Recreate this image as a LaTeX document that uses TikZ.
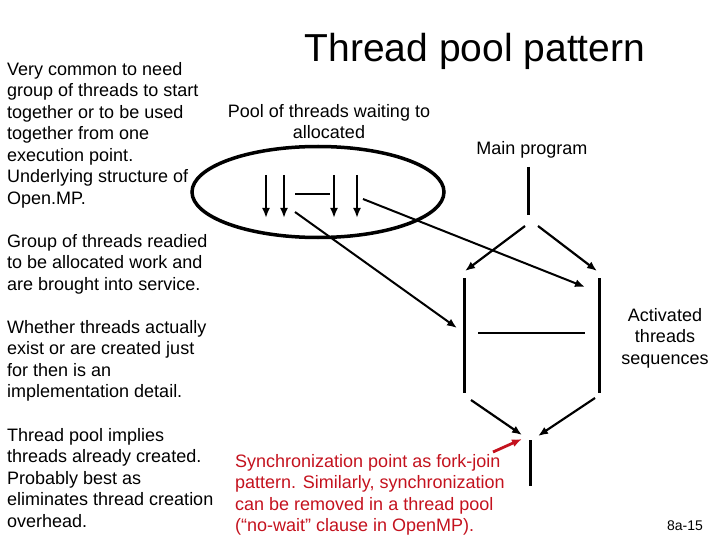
\documentclass[tikz,border=0pt]{standalone}
\usepackage{fontspec}
\setmainfont{Liberation Sans}
\usetikzlibrary{positioning,arrows.meta,shapes.geometric}
\definecolor{poolRojo}{HTML}{C4121E}

\begin{document}
\begin{tikzpicture}[x=1pt, y=-1pt,
      t/.style={inner sep=0pt, align=left, anchor=north west,
                font=\fontsize{18}{21.5}\selectfont},
      tc/.style={t, align=center, anchor=north},
      hilo/.style={line width=3pt},
      flecha/.style={line width=2.2pt, -{Latex[length=10pt,width=8pt]}},
      every node/.style={align=center}]
    \useasboundingbox (0,0) rectangle (720,540);
    \node[anchor=base, inner sep=0pt, font=\fontsize{39}{44}\selectfont] (titulo) at (475,62) {Thread pool pattern};
    % textos de la izquierda
    \node[t] (comun) at (7,62) {Very common to need\\group of threads to start\\together or to be used\\together from one\\execution point.\\Underlying structure of\\Open.MP.};
    \node[t] (grupo) at (7,234) {Group of threads readied\\to be allocated work and\\are brought into service.};
    \node[t] (existen) at (7,320) {Whether threads actually\\exist or are created just\\for then is an\\implementation detail.};
    \node[t] (implica) at (7,428) {Thread pool implies\\threads already created.\\Probably best as\\eliminates thread creation\\overhead.};
    \node[tc] (espera) at (329,104) {Pool of threads waiting to\\allocated};
    \node[tc] (main) at (532,141) {Main program};
    \node[tc] (activos) at (665,308) {Activated\\threads\\sequences};
    \node[t, text=poolRojo] (sincro) at (235,454) {Synchronization point as fork-join\\pattern. Similarly, synchronization\\can be removed in a thread pool\\(“no-wait” clause in OpenMP).};
    \node[anchor=base, inner sep=0pt, font=\fontsize{14}{16}\selectfont] (pag) at (685,530) {8a-15};

    % el pool
    \node[ellipse, draw, line width=3.5pt, minimum width=252pt, minimum height=91pt] (pool) at (318,192) {};
    \coordinate (h1a) at (266,175); \coordinate (h1b) at (266,218);
    \coordinate (h2a) at (284,175); \coordinate (h2b) at (284,218);
    \coordinate (h3a) at (334,175); \coordinate (h3b) at (334,218);
    \coordinate (h4a) at (357,175); \coordinate (h4b) at (357,218);
    \coordinate (ha) at (295,194);  \coordinate (hb) at (330,194);
    \draw[flecha, line width=2pt] (h1a) -- (h1b);
    \draw[flecha, line width=2pt] (h2a) -- (h2b);
    \draw[flecha, line width=2pt] (h3a) -- (h3b);
    \draw[flecha, line width=2pt] (h4a) -- (h4b);
    \draw[line width=2pt] (ha) -- (hb);

    % programa principal
    \coordinate (m1) at (528,167); \coordinate (m2) at (528,215);
    \coordinate (fi) at (464,278); \coordinate (fi2) at (464,393);
    \coordinate (fd) at (599,278); \coordinate (fd2) at (599,393);
    \coordinate (c1) at (478,333); \coordinate (c2) at (585,333);
    \coordinate (u1) at (530,440); \coordinate (u2) at (530,486);
    \draw[hilo] (m1) -- (m2);
    \draw[hilo] (fi) -- (fi2);
    \draw[hilo] (fd) -- (fd2);
    \draw[line width=2pt] (c1) -- (c2);
    \draw[hilo] (u1) -- (u2);

    % fork y join
    \coordinate (k1) at (525,226); \coordinate (k2) at (465,271);
    \coordinate (k3) at (538,226); \coordinate (k4) at (597,271);
    \coordinate (j1) at (471,400); \coordinate (j2) at (522,435);
    \coordinate (j3) at (595,398); \coordinate (j4) at (538,436);
    \draw[flecha] (k1) -- (k2);
    \draw[flecha] (k3) -- (k4);
    \draw[flecha] (j1) -- (j2);
    \draw[flecha] (j3) -- (j4);

    % del pool a los hilos activos
    \coordinate (s1) at (295,212); \coordinate (e1) at (457,328);
    \coordinate (s2) at (363,199); \coordinate (e2) at (585,287);
    \draw[flecha, line width=2pt] (s1) -- (e1);
    \draw[flecha, line width=2pt] (s2) -- (e2);

    \coordinate (r1) at (493,452); \coordinate (r2) at (522,439);
    \draw[flecha, line width=2.8pt, draw=poolRojo, fill=poolRojo] (r1) -- (r2);
  \end{tikzpicture}
\end{document}
